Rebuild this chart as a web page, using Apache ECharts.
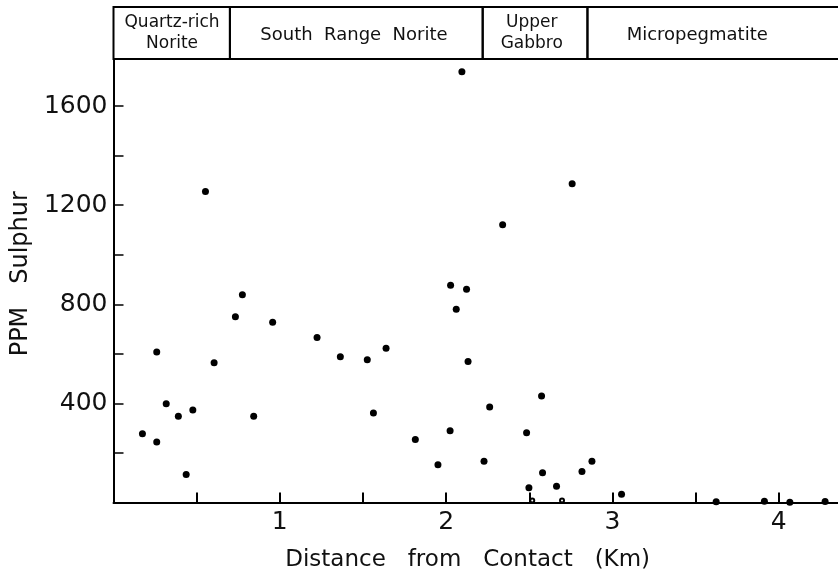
<!DOCTYPE html>
<html>
<head>
<meta charset="utf-8">
<script src="https://cdn.jsdelivr.net/npm/echarts@6/dist/echarts.min.js"></script>
<style>
html,body{margin:0;padding:0;background:#fff;}
#chart{width:838px;height:573px;}
</style>
</head>
<body>
<div id="chart"></div>
<script>
// Data
const distanceKm = [0.174, 0.26, 0.26, 0.317, 0.39, 0.437, 0.477, 0.553, 0.605, 0.733, 0.775, 0.843, 0.957, 1.224, 1.364, 1.526, 1.563, 1.639, 1.815, 1.951, 2.024, 2.027, 2.061, 2.095, 2.123, 2.132, 2.228, 2.262, 2.34, 2.484, 2.498, 2.574, 2.58, 2.664, 2.758, 2.817, 2.877, 3.055, 3.624, 3.914, 4.067, 4.279];
const sulphurPpm = [277, 244, 607, 399, 348, 113, 373, 1255, 564, 750, 838, 348, 728, 666, 588, 576, 361, 623, 254, 152, 290, 877, 780, 1739, 861, 569, 166, 385, 1121, 282, 60, 430, 120, 66, 1286, 125, 166, 33, 3, 5, 1, 4];
const openDistanceKm = [2.518, 2.697];
const openSulphurPpm = [8, 8];

const zoneNames = ['Quartz-rich\nNorite', 'South  Range  Norite', 'Upper\nGabbro', 'Micropegmatite'];
const zoneStart = [0, 0.70, 2.22, 2.85];
const zoneEnd = [0.70, 2.22, 2.85, 4.5];
const zoneLabelAt = [0.352, 1.446, 2.515, 3.51];

const yTickLabels = [400, 800, 1200, 1600];
const xTickLabels = [1, 2, 3, 4];

const X_MAX = 4.5;
const PX_PER_KM = 166.3;
const LEFT = 113.5;
const WIDTH = X_MAX * PX_PER_KM;

const FONT = '"DejaVu Sans", sans-serif';

const chart = echarts.init(document.getElementById('chart'), null, {renderer: 'canvas'});

const mainPts = distanceKm.map((d, i) => [d, sulphurPpm[i]]);
const openPts = openDistanceKm.map((d, i) => [d, openSulphurPpm[i]]);
const zoneData = zoneNames.map((n, i) => [zoneStart[i], zoneEnd[i], zoneLabelAt[i]]);

chart.setOption({
  animation: false,
  backgroundColor: '#fff',
  grid: [
    {left: LEFT, width: WIDTH, top: 59, height: 443.5, containLabel: false, outerBoundsMode: 'none'},
    {left: LEFT, width: WIDTH, top: 7, height: 52, containLabel: false, outerBoundsMode: 'none'}
  ],
  xAxis: [
    {
      gridIndex: 0, type: 'value', min: 0, max: X_MAX, interval: 0.5,
      name: 'Distance   from   Contact   (Km)', nameLocation: 'middle', nameGap: 46,
      nameTextStyle: {fontFamily: FONT, fontSize: 23, color: '#111', padding: [0, 40, 0, 0]},
      axisLine: {show: true, onZero: false, lineStyle: {color: '#000', width: 2}},
      axisTick: {show: true, inside: true, length: 10, lineStyle: {color: '#000', width: 2}},
      splitLine: {show: false},
      axisLabel: {
        fontFamily: FONT, fontSize: 25, color: '#111', margin: 7,
        showMinLabel: false, showMaxLabel: false,
        formatter: v => xTickLabels.indexOf(v) >= 0 ? String(v) : ''
      }
    },
    {
      gridIndex: 1, type: 'value', min: 0, max: X_MAX, show: false
    }
  ],
  yAxis: [
    {
      gridIndex: 0, type: 'value', min: 0, max: 1790, interval: 400,
      name: 'PPM   Sulphur', nameLocation: 'middle', nameGap: 78, nameRotate: 90,
      nameTextStyle: {fontFamily: FONT, fontSize: 24, color: '#111', padding: [0, 0, 0, 14]},
      axisLine: {show: true, onZero: false, lineStyle: {color: '#000', width: 2}},
      axisTick: {show: true, inside: true, length: 10, lineStyle: {color: '#000', width: 1.5}},
      minorTick: {show: true, splitNumber: 2, length: 10, lineStyle: {color: '#000', width: 1.5}},
      splitLine: {show: false},
      minorSplitLine: {show: false},
      axisLabel: {
        fontFamily: FONT, fontSize: 25, color: '#111', margin: 6,
        showMinLabel: false, showMaxLabel: false,
        formatter: v => yTickLabels.indexOf(v) >= 0 ? String(v) : ''
      }
    },
    {
      gridIndex: 1, type: 'value', min: 0, max: 1, show: false
    }
  ],
  series: [
    {
      type: 'scatter', xAxisIndex: 0, yAxisIndex: 0,
      data: mainPts, symbol: 'circle', symbolSize: 7,
      itemStyle: {color: '#000', opacity: 1}, silent: true
    },
    {
      type: 'scatter', xAxisIndex: 0, yAxisIndex: 0,
      data: openPts, symbol: 'emptyCircle', symbolSize: 4,
      itemStyle: {color: '#000', borderColor: '#000', borderWidth: 1, opacity: 1}, silent: true
    },
    {
      type: 'custom', xAxisIndex: 1, yAxisIndex: 1, clip: false, silent: true,
      data: zoneData,
      encode: {x: [0, 1, 2]},
      renderItem: (params, api) => {
        const a = api.coord([api.value(0), 1]);
        const b = api.coord([api.value(1), 0]);
        const c = api.coord([api.value(2), 0.5]);
        const twoLine = zoneNames[params.dataIndex].indexOf('\n') >= 0;
        return {
          type: 'group',
          children: [
            {type: 'rect', shape: {x: a[0], y: a[1], width: b[0] - a[0], height: b[1] - a[1]},
             style: {fill: 'none', stroke: '#000', lineWidth: 2}},
            {type: 'text', style: {
              text: zoneNames[params.dataIndex], x: c[0], y: c[1] + (twoLine ? 0 : 2),
              align: 'center', verticalAlign: 'middle',
              fontFamily: FONT, fontSize: twoLine ? 17 : 18, lineHeight: 21, fill: '#111'
            }}
          ]
        };
      }
    }
  ]
});
</script>
</body>
</html>
